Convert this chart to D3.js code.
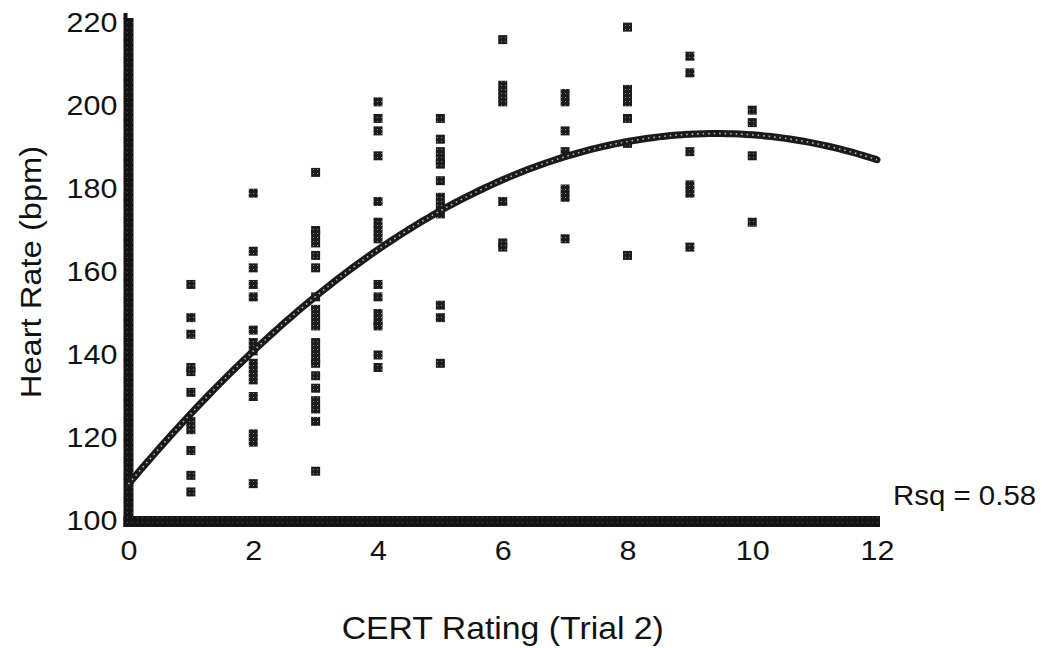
<!DOCTYPE html>
<html>
<head>
<meta charset="utf-8">
<script src="https://cdn.jsdelivr.net/npm/d3@7"></script>
<style>
  html, body { margin: 0; padding: 0; background: #fff; }
  svg { display: block; font-family: 'Liberation Sans', Arial, sans-serif; }
</style>
</head>
<body>
<svg id="chart" width="1051" height="648"></svg>
<script>
const ratings = [1, 2, 3, 4, 5, 6, 7, 8, 9, 10];
const heartRates = [
  [157, 149, 145, 137, 136, 131, 124, 122, 117, 111, 107],
  [179, 165, 161, 157, 154, 146, 143, 141, 138, 136, 134, 130, 121, 119, 109],
  [184, 170, 169, 167, 164, 161, 154, 151, 149, 147, 143, 141, 139, 138, 135, 132, 129, 127, 124, 112],
  [201, 197, 194, 188, 177, 172, 170, 168, 157, 154, 150, 148, 147, 140, 137],
  [197, 192, 189, 187, 186, 182, 178, 176, 174, 152, 149, 138],
  [216, 205, 203, 201, 177, 167, 166],
  [203, 201, 194, 189, 180, 178, 168],
  [219, 204, 202, 201, 197, 191, 164],
  [212, 208, 189, 181, 179, 166],
  [199, 196, 188, 172]
];
const xTicks = [0, 2, 4, 6, 8, 10, 12];
const yTicks = [100, 120, 140, 160, 180, 200, 220];
const xTitle = 'CERT Rating (Trial 2)';
const yTitle = 'Heart Rate (bpm)';
const rsqLabel = 'Rsq = 0.58';

const points = [];
ratings.forEach(function(r, i) {
  heartRates[i].forEach(function(h) { points.push({ x: r, y: h }); });
});

// quadratic least squares fit
function quadFit(pts) {
  var S = [[0,0,0],[0,0,0],[0,0,0]], T = [0,0,0];
  pts.forEach(function(p) {
    var v = [1, p.x, p.x * p.x];
    for (var i = 0; i < 3; i++) {
      T[i] += v[i] * p.y;
      for (var j = 0; j < 3; j++) S[i][j] += v[i] * v[j];
    }
  });
  for (var c = 0; c < 3; c++) {
    for (var r = c + 1; r < 3; r++) {
      var f = S[r][c] / S[c][c];
      for (var k = c; k < 3; k++) S[r][k] -= f * S[c][k];
      T[r] -= f * T[c];
    }
  }
  var b = [0,0,0];
  for (var i = 2; i >= 0; i--) {
    var s = T[i];
    for (var k = i + 1; k < 3; k++) s -= S[i][k] * b[k];
    b[i] = s / S[i][i];
  }
  return b;
}
const coef = quadFit(points);

const svg = d3.select('#chart');
const x = d3.scaleLinear().domain([0, 12]).range([128.5, 877]);
const y = d3.scaleLinear().domain([100, 220]).range([521, 23]);
const stretch = 'scale(1.09,1)';
const font = "'Liberation Sans', Arial, sans-serif";

const defs = svg.append('defs');
const pat = defs.append('pattern').attr('id', 'dots')
  .attr('width', 4).attr('height', 4).attr('patternUnits', 'userSpaceOnUse');
pat.append('rect').attr('width', 4).attr('height', 4).attr('fill', '#1c1c1c');
pat.append('rect').attr('x', 1).attr('y', 1).attr('width', 1).attr('height', 1).attr('fill', '#8a8a8a');

const bar = defs.append('pattern').attr('id', 'bar')
  .attr('width', 5).attr('height', 5).attr('patternUnits', 'userSpaceOnUse');
bar.append('rect').attr('width', 5).attr('height', 5).attr('fill', '#141414');
bar.append('rect').attr('x', 2).attr('y', 2).attr('width', 1).attr('height', 1).attr('fill', '#555');

// axis bars
svg.append('rect')
  .attr('x', x(0) - 5).attr('y', y(220) - 5)
  .attr('width', 10).attr('height', y(100) - y(220) + 11)
  .attr('fill', 'url(#bar)');
svg.append('rect')
  .attr('x', x(0) - 5).attr('y', y(220) - 10)
  .attr('width', 4).attr('height', 6)
  .attr('fill', '#141414');
svg.append('rect')
  .attr('x', x(0) - 5).attr('y', y(100) - 5)
  .attr('width', x(12) - x(0) + 8).attr('height', 11)
  .attr('fill', 'url(#bar)');

// tick labels
const yAxis = svg.append('g').attr('transform', 'translate(' + (x(0) - 11) + ',0)')
  .call(d3.axisLeft(y).tickValues(yTicks).tickSize(0).tickPadding(0));
yAxis.select('.domain').remove();
yAxis.selectAll('text')
  .attr('font-size', 28).attr('fill', '#111')
  .attr('font-family', font)
  .attr('transform', stretch);

const xAxis = svg.append('g').attr('transform', 'translate(0,' + (y(100) + 19) + ')')
  .call(d3.axisBottom(x).tickValues(xTicks).tickSize(0).tickPadding(0));
xAxis.select('.domain').remove();
xAxis.selectAll('.tick text')
  .attr('font-size', 28).attr('fill', '#111')
  .attr('font-family', font)
  .attr('transform', stretch);

// axis titles
svg.append('text')
  .attr('transform', 'translate(41,' + y(160) + ') rotate(-90) ' + stretch)
  .attr('text-anchor', 'middle')
  .attr('font-size', 30).attr('fill', '#111')
  .text(yTitle);
svg.append('text')
  .attr('transform', 'translate(' + x(6) + ',639) ' + stretch)
  .attr('text-anchor', 'middle')
  .attr('font-size', 31).attr('fill', '#111')
  .text(xTitle);

svg.append('text')
  .attr('transform', 'translate(893,505) ' + stretch)
  .attr('font-size', 27).attr('fill', '#111')
  .text(rsqLabel);

// points
svg.append('g').selectAll('rect')
  .data(points)
  .join('rect')
  .attr('x', function(d) { return x(d.x) - 4.5; })
  .attr('y', function(d) { return y(d.y) - 4.5; })
  .attr('width', 9).attr('height', 9)
  .attr('fill', 'url(#dots)');

// fit curve
const curveX = d3.range(0, 12.001, 0.1);
const line = d3.line()
  .x(function(d) { return x(d); })
  .y(function(d) { return y(coef[0] + coef[1] * d + coef[2] * d * d); })
  .curve(d3.curveBasis);
svg.append('path').datum(curveX)
  .attr('d', line).attr('fill', 'none')
  .attr('stroke', '#1a1a1a').attr('stroke-width', 7).attr('stroke-linecap', 'round');
svg.append('path').datum(curveX)
  .attr('d', line).attr('fill', 'none')
  .attr('stroke', '#bdbdbd').attr('stroke-width', 1.6)
  .attr('stroke-dasharray', '1.5,4');
</script>
</body>
</html>
